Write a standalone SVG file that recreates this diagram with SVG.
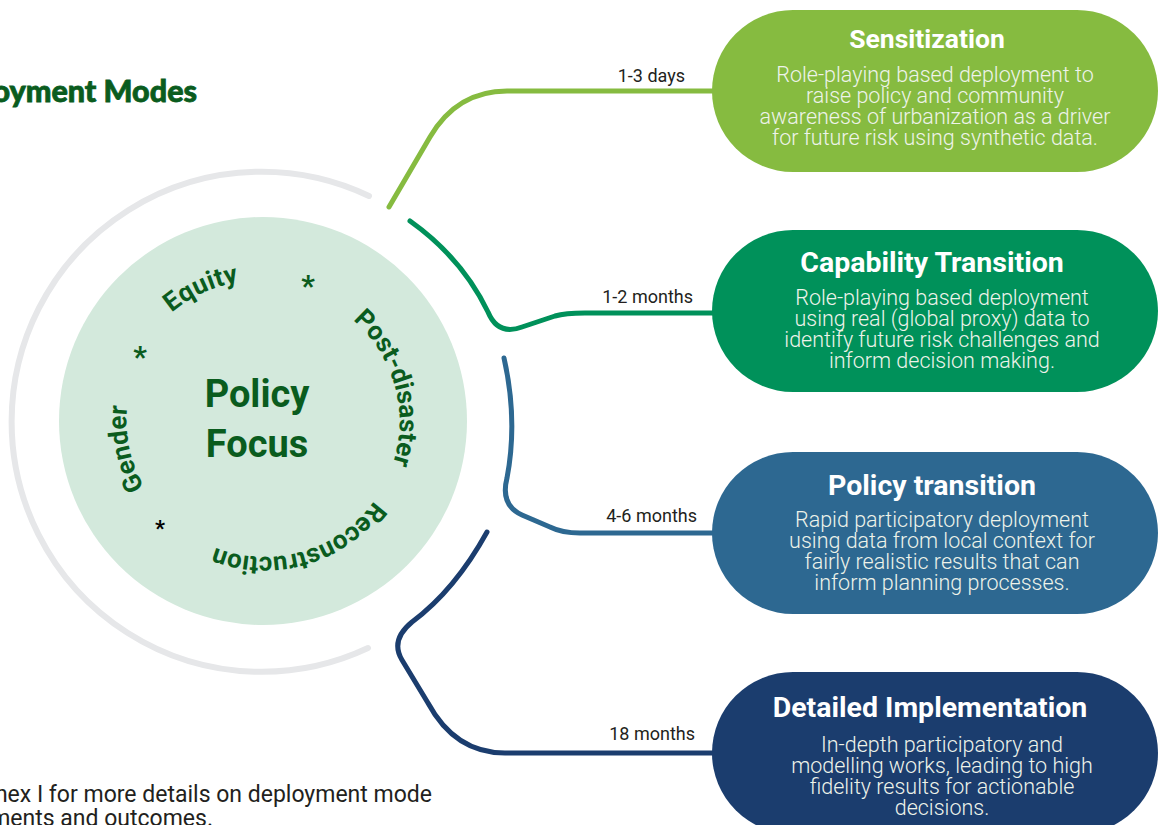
<svg xmlns="http://www.w3.org/2000/svg" xmlns:xlink="http://www.w3.org/1999/xlink" width="1158" height="825" viewBox="0 0 1158 825">
<style>
.title{font-family:Roboto,"Liberation Sans",sans-serif;font-weight:700;font-size:28.5px;fill:#ffffff;text-anchor:middle}
.desc{font-family:Roboto,"Liberation Sans",sans-serif;font-weight:300;font-size:21.5px;fill:#eef3ea;text-anchor:middle}
.lbl{font-family:Roboto,"Liberation Sans",sans-serif;font-size:18px;fill:#231f20;text-anchor:end}
.conn{fill:none;stroke-width:5;stroke-linecap:round;stroke-linejoin:round}
.ring{font-family:Roboto,"Liberation Sans",sans-serif;font-weight:700;font-size:26px;fill:#0a5c1e;text-anchor:middle}
.ast{font-family:Roboto,"Liberation Sans",sans-serif;font-weight:700;text-anchor:middle}
.note{font-family:Roboto,"Liberation Sans",sans-serif;font-size:23px;fill:#231f20;text-anchor:end}
</style>
<defs>
<path id="ringPath" d="M195.5,537.9 A135,135 0 1,1 330.5,304.1 A135,135 0 1,1 195.5,537.9"/>
</defs>
<rect width="1158" height="825" fill="#ffffff"/>

<text x="197" y="102" font-family="Lato,'Liberation Sans',sans-serif" font-weight="900" font-size="30.5" fill="#0a5c1e" stroke="#0a5c1e" stroke-width="0.8" text-anchor="end">Deployment Modes</text>

<g id="policy-focus">
<path d="M368,648 A250,250 0 1,1 369,196" fill="none" stroke="#e6e7e9" stroke-width="6" stroke-linecap="round"/>
<circle cx="263" cy="421" r="204" fill="#d3e9dc"/>
<text x="257" y="407" font-family="Roboto,'Liberation Sans',sans-serif" font-weight="700" font-size="38" fill="#0a5c1e" text-anchor="middle">Policy</text>
<text x="257" y="457" font-family="Roboto,'Liberation Sans',sans-serif" font-weight="700" font-size="38" fill="#0a5c1e" text-anchor="middle">Focus</text>
<text class="ring"><textPath xlink:href="#ringPath" href="#ringPath" startOffset="115">Gender</textPath></text>
<text class="ring" dy="-5"><textPath xlink:href="#ringPath" href="#ringPath" startOffset="297">Equity</textPath></text>
<text class="ring"><textPath xlink:href="#ringPath" href="#ringPath" startOffset="534">Post-disaster</textPath></text>
<text class="ring"><textPath xlink:href="#ringPath" href="#ringPath" startOffset="744">Reconstruction</textPath></text>
<text class="ast" x="140" y="367" font-size="30" fill="#0a5c1e">*</text>
<text class="ast" x="308" y="296" font-size="30" fill="#0a5c1e">*</text>
<text class="ast" x="160" y="536" font-size="22" fill="#000000">*</text>
</g>

<g id="connectors">
<path class="conn" stroke="#86bb40" d="M389,207 L430,137 Q457,91 507,91 L715,91"/>
<path class="conn" stroke="#00915a" d="M410,221 Q462,258 488,312 Q498,336 522,327 L555,316 Q565,313 585,313 L715,313"/>
<path class="conn" stroke="#2d6891" d="M504,358 Q518,420 507,478 Q500,505 522,515 L550,527 Q562,533 580,533 L715,533"/>
<path class="conn" stroke="#1b3d6e" d="M487,532 Q455,590 412,622 Q390,640 402,660 L428,703 Q455,753 505,753 L715,753"/>
<text class="lbl" x="685" y="82">1-3 days</text>
<text class="lbl" x="693" y="303">1-2 months</text>
<text class="lbl" x="697" y="522">4-6 months</text>
<text class="lbl" x="695" y="740">18 months</text>
</g>

<g id="sensitization">
<rect x="712" y="10" width="446" height="162" rx="81" fill="#86bb40"/>
<text class="title" x="927" y="48" style="font-size:26.5px">Sensitization</text>
<text class="desc"><tspan x="935" y="82">Role-playing based deployment to</tspan><tspan x="935" y="103">raise policy and community</tspan><tspan x="935" y="124">awareness of urbanization as a driver</tspan><tspan x="935" y="145">for future risk using synthetic data.</tspan></text>
</g>

<g id="capability-transition">
<rect x="712" y="230" width="446" height="162" rx="81" fill="#00915a"/>
<text class="title" x="932" y="272">Capability Transition</text>
<text class="desc"><tspan x="942" y="305">Role-playing based deployment</tspan><tspan x="942" y="326">using real (global proxy) data to</tspan><tspan x="942" y="347">identify future risk challenges and</tspan><tspan x="942" y="368">inform decision making.</tspan></text>
</g>

<g id="policy-transition">
<rect x="712" y="452" width="446" height="162" rx="81" fill="#2d6891"/>
<text class="title" x="932" y="495">Policy transition</text>
<text class="desc"><tspan x="942" y="527">Rapid participatory deployment</tspan><tspan x="942" y="548">using data from local context for</tspan><tspan x="942" y="569">fairly realistic results that can</tspan><tspan x="942" y="590">inform planning processes.</tspan></text>
</g>

<g id="detailed-implementation">
<rect x="712" y="672" width="446" height="162" rx="81" fill="#1b3d6e"/>
<text class="title" x="930" y="717">Detailed Implementation</text>
<text class="desc"><tspan x="942" y="752">In-depth participatory and</tspan><tspan x="942" y="773">modelling works, leading to high</tspan><tspan x="942" y="794">fidelity results for actionable</tspan><tspan x="942" y="815">decisions.</tspan></text>
</g>

<text class="note" x="432" y="802">nex I for more details on deployment mode</text>
<text class="note" x="213" y="826">ments and outcomes.</text>
</svg>
